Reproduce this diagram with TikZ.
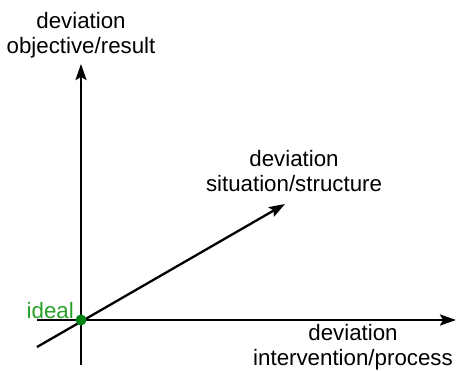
\documentclass[tikz,border=0pt]{standalone}
\usepackage{fontspec}
\setmainfont{Liberation Sans}
\usetikzlibrary{arrows.meta}
\definecolor{idealtext}{RGB}{40,160,40}
\definecolor{idealdot}{RGB}{0,130,20}
\begin{document}
\begin{tikzpicture}[x=1pt,y=-1pt,
  axis/.style={line width=2.3pt,-{Stealth[length=16pt,width=11pt,inset=3pt]}},
  lbl/.style={inner sep=0pt,align=center,font=\fontsize{22.3}{25}\selectfont},
]
\useasboundingbox (0,0) rectangle (457,371);
\coordinate (O) at (81,320);
\coordinate (ytop) at (81,64);
\coordinate (ybot) at (81,365);
\coordinate (xleft) at (37,320);
\coordinate (xright) at (456,320);
\coordinate (dlow) at (37,347);
\coordinate (dtip) at (285,204);
\draw[axis] (ybot) -- (ytop);
\draw[axis] (xleft) -- (xright);
\draw[axis] (dlow) -- (dtip);
\node[circle,fill=idealdot,minimum size=11pt,inner sep=0pt] (dot) at (O) {};
\node[lbl,text=idealtext,anchor=east] (ideal) at (74,311) {ideal};
\node[lbl] (ylab) at (81,35) {deviation\\objective/result};
\node[lbl] (dlab) at (294,171) {deviation\\situation/structure};
\node[lbl] (xlab) at (353,347) {deviation\\intervention/process};
\end{tikzpicture}
\end{document}
